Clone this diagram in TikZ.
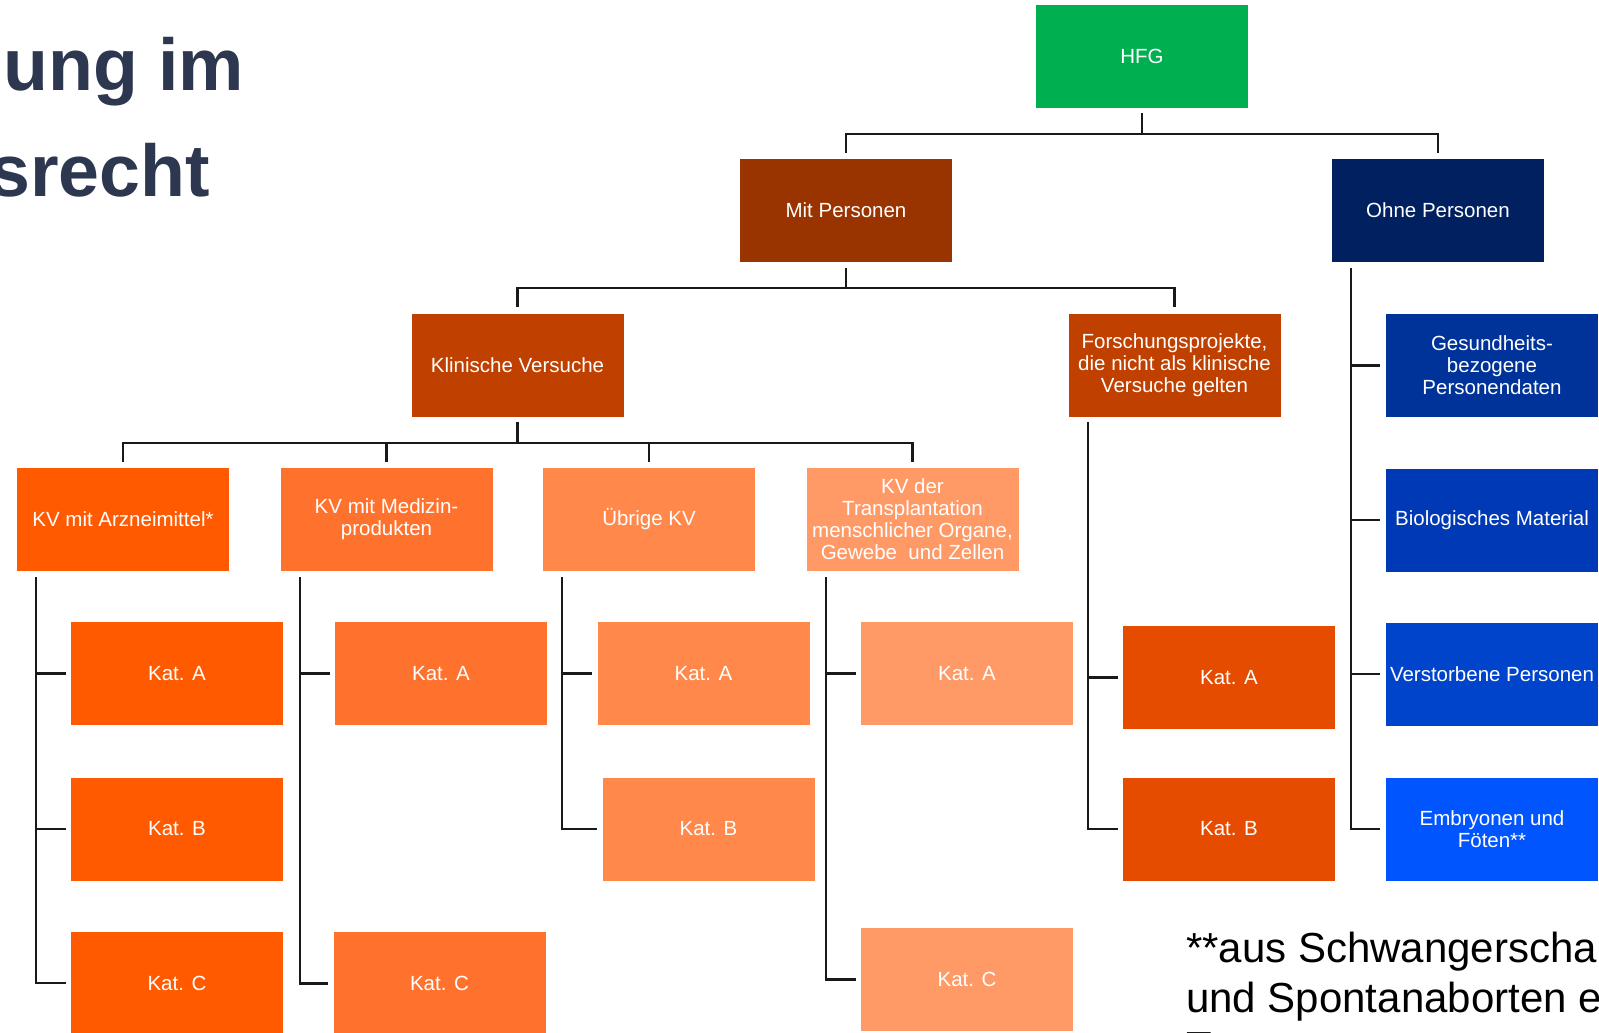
\documentclass[tikz,border=0pt]{standalone}
\usepackage{fontspec}
\setmainfont{Liberation Sans}
\definecolor{cHFG}{HTML}{00B050}
\definecolor{cMit}{HTML}{993300}
\definecolor{cOhne}{HTML}{002060}
\definecolor{cKlin}{HTML}{C04000}
\definecolor{cA}{HTML}{FF5A00}
\definecolor{cB}{HTML}{FF722E}
\definecolor{cC}{HTML}{FF884A}
\definecolor{cD}{HTML}{FF9966}
\definecolor{cF}{HTML}{E64C00}
\definecolor{bA}{HTML}{003399}
\definecolor{bB}{HTML}{0039B5}
\definecolor{bC}{HTML}{0044CC}
\definecolor{bD}{HTML}{0055FF}
\definecolor{cTitle}{RGB}{45,56,80}
\begin{document}
\begin{tikzpicture}[x=1pt,y=-1pt,
  box/.style={rectangle, inner sep=2pt, minimum width=212pt, minimum height=103pt,
    text=white, align=center, font=\fontsize{20.5}{22}\selectfont},
  conn/.style={line width=2.3pt, draw=black!90},
  titletext/.style={anchor=base west, inner sep=0pt, text=cTitle, font=\fontsize{73.5}{73.5}\selectfont\bfseries},
  foot/.style={anchor=base west, inner sep=0pt, text=black, font=\fontsize{42}{42}\selectfont}]
\useasboundingbox (0,0) rectangle (1599,1033);
\clip (0,0) rectangle (1599,1033);

% title
\node[titletext] (t1) at (3,90) {ung im};
\node[titletext] (t2) at (-11,196) {srecht};

% top levels
\node[box, fill=cHFG] (hfg) at (1142,56.5) {HFG};
\node[box, fill=cMit] (mit) at (846,210.5) {Mit Personen};
\node[box, fill=cOhne] (ohne) at (1438,210.5) {Ohne Personen};
\node[box, fill=cKlin] (klin) at (517.5,365) {Klinische Versuche};
\node[box, fill=cKlin] (forsch) at (1174.5,365) {Forschungsprojekte,\\die nicht als klinische\\Versuche gelten};

% KV level
\node[box, fill=cA] (kv1) at (123,519.5) {KV mit Arzneimittel*};
\node[box, fill=cB] (kv2) at (386.5,519.5) {KV mit Medizin-\\produkten};
\node[box, fill=cC] (kv3) at (649,519.5) {Übrige KV};
\node[box, fill=cD] (kv4) at (912.5,519.5) {KV der\\Transplantation\\menschlicher Organe,\\Gewebe \ und Zellen};

% categories
\node[box, fill=cA] (c1a) at (177,673.5) {Kat. A};
\node[box, fill=cA] (c1b) at (177,829) {Kat. B};
\node[box, fill=cA] (c1c) at (177,983) {Kat. C};
\node[box, fill=cB] (c2a) at (441,673.5) {Kat. A};
\node[box, fill=cB] (c2c) at (439.5,983.5) {Kat. C};
\node[box, fill=cC] (c3a) at (703.5,673.5) {Kat. A};
\node[box, fill=cC] (c3b) at (708.5,829) {Kat. B};
\node[box, fill=cD] (c4a) at (967,673.5) {Kat. A};
\node[box, fill=cD] (c4c) at (967,979.5) {Kat. C};
\node[box, fill=cF] (fa) at (1229,677.5) {Kat. A};
\node[box, fill=cF] (fb) at (1229,829) {Kat. B};

% blue column
\node[box, fill=bA] (g1) at (1492,365.5) {Gesundheits-\\bezogene\\Personendaten};
\node[box, fill=bB] (g2) at (1492,520) {Biologisches Material};
\node[box, fill=bC] (g3) at (1492,674) {Verstorbene Personen};
\node[box, fill=bD] (g4) at (1492,829) {Embryonen und\\Föten**};

% tree connectors
\draw[conn] ([yshift=-5pt]hfg.south) -- ++(0,21);
\draw[conn] ([yshift=6pt]mit.north) -- ++(0,-19) -| ([yshift=6pt]ohne.north);
\draw[conn] ([yshift=-6pt]mit.south) -- ++(0,21);
\draw[conn] ([yshift=6pt]klin.north) -- ++(0,-19) -| ([yshift=6pt]forsch.north);
\draw[conn] ([yshift=-5pt]klin.south) -- ++(0,22);
\draw[conn] ([yshift=6pt]kv1.north) -- ++(0,-19) -| ([yshift=6pt]kv4.north);
\draw[conn] ([yshift=6pt]kv2.north) -- ++(0,-19);
\draw[conn] ([yshift=6pt]kv3.north) -- ++(0,-19);

% column connectors
\coordinate (k1) at ([xshift=19.5pt,yshift=-6pt]kv1.south west);
\draw[conn] (k1) |- ([xshift=-5pt]c1c.west);
\draw[conn] (k1 |- c1a.west) -- ([xshift=-5pt]c1a.west);
\draw[conn] (k1 |- c1b.west) -- ([xshift=-5pt]c1b.west);

\coordinate (k2) at ([xshift=19.5pt,yshift=-6pt]kv2.south west);
\draw[conn] (k2) |- ([xshift=-5pt]c2c.west);
\draw[conn] (k2 |- c2a.west) -- ([xshift=-5pt]c2a.west);

\coordinate (k3) at ([xshift=19.5pt,yshift=-6pt]kv3.south west);
\draw[conn] (k3) |- ([xshift=-5pt]c3b.west);
\draw[conn] (k3 |- c3a.west) -- ([xshift=-5pt]c3a.west);

\coordinate (k4) at ([xshift=19.5pt,yshift=-6pt]kv4.south west);
\draw[conn] (k4) |- ([xshift=-5pt]c4c.west);
\draw[conn] (k4 |- c4a.west) -- ([xshift=-5pt]c4a.west);

\coordinate (kf) at ([xshift=19.5pt,yshift=-5pt]forsch.south west);
\draw[conn] (kf) |- ([xshift=-5pt]fb.west);
\draw[conn] (kf |- fa.west) -- ([xshift=-5pt]fa.west);

\coordinate (ko) at ([xshift=19.5pt,yshift=-6pt]ohne.south west);
\draw[conn] (ko) |- ([xshift=-5.5pt]g4.west);
\draw[conn] (ko |- g1.west) -- ([xshift=-5.5pt]g1.west);
\draw[conn] (ko |- g2.west) -- ([xshift=-5.5pt]g2.west);
\draw[conn] (ko |- g3.west) -- ([xshift=-5.5pt]g3.west);

% footnote
\node[foot] (f1) at (1186,962) {**aus Schwangerscha};
\node[foot] (f2) at (1186,1012) {und Spontanaborten e};
\node[foot] (f3) at (1186,1061) {T};
\end{tikzpicture}
\end{document}
